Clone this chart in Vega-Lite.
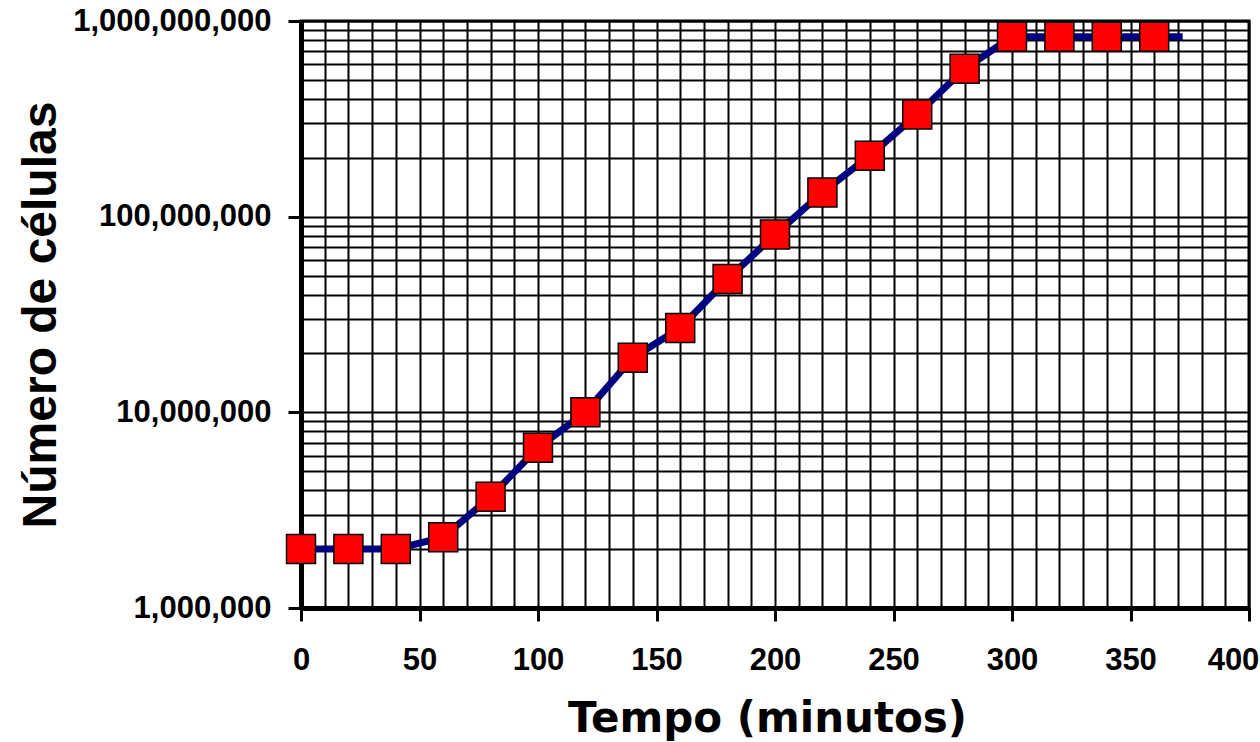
{
  "$schema": "https://vega.github.io/schema/vega-lite/v6.json",
  "width": 948,
  "height": 587,
  "autosize": "none",
  "padding": {"left": 301, "top": 21, "right": 11, "bottom": 134},
  "background": "white",
  "config": {"view": {"stroke": "black", "strokeWidth": 3}},
  "datasets": {
    "pts": [
      {"t": 0, "n": 2000000},
      {"t": 20, "n": 2000000},
      {"t": 40, "n": 2000000},
      {"t": 60, "n": 2300000},
      {"t": 80, "n": 3700000},
      {"t": 100, "n": 6600000},
      {"t": 120, "n": 10000000},
      {"t": 140, "n": 19000000},
      {"t": 160, "n": 27000000},
      {"t": 180, "n": 48000000},
      {"t": 200, "n": 81000000},
      {"t": 220, "n": 133000000},
      {"t": 240, "n": 205000000},
      {"t": 260, "n": 333000000},
      {"t": 280, "n": 570000000},
      {"t": 300, "n": 830000000},
      {"t": 320, "n": 830000000},
      {"t": 340, "n": 830000000},
      {"t": 360, "n": 830000000}
    ],
    "curve": [
      {"t": 0, "n": 2000000},
      {"t": 20, "n": 2000000},
      {"t": 40, "n": 2000000},
      {"t": 60, "n": 2300000},
      {"t": 80, "n": 3700000},
      {"t": 100, "n": 6600000},
      {"t": 120, "n": 10000000},
      {"t": 140, "n": 19000000},
      {"t": 160, "n": 27000000},
      {"t": 180, "n": 48000000},
      {"t": 200, "n": 81000000},
      {"t": 220, "n": 133000000},
      {"t": 240, "n": 205000000},
      {"t": 260, "n": 333000000},
      {"t": 280, "n": 570000000},
      {"t": 300, "n": 830000000},
      {"t": 320, "n": 830000000},
      {"t": 340, "n": 830000000},
      {"t": 360, "n": 830000000},
      {"t": 372, "n": 830000000}
    ]
  },
  "encoding": {
    "x": {
      "field": "t",
      "type": "quantitative",
      "scale": {"domain": [0, 400], "nice": false, "zero": false},
      "axis": {
        "values": [0,10,20,30,40,50,60,70,80,90,100,110,120,130,140,150,160,170,180,190,200,210,220,230,240,250,260,270,280,290,300,310,320,330,340,350,360,370,380,390,400],
        "labelExpr": "datum.value % 50 == 0 ? datum.label : ''",
        "labelOverlap": false,
        "labelFlush": false,
        "labelLimit": 0,
        "labelOffset": {"condition": {"test": "datum.value == 400", "value": -16}, "value": 0},
        "grid": true,
        "gridColor": "black",
        "gridWidth": 2,
        "gridOpacity": 1,
        "domainColor": "black",
        "domainWidth": 5,
        "tickColor": "black",
        "tickWidth": 3,
        "tickSize": 13,
        "tickOpacity": {"condition": {"test": "datum.value % 50 == 0", "value": 1}, "value": 0},
        "labelFont": "Liberation Sans",
        "labelFontWeight": "bold",
        "labelFontSize": 31,
        "labelColor": "black",
        "labelPadding": 24,
        "title": "Tempo (minutos)",
        "titleFont": "DejaVu Sans",
        "titleFontWeight": "bold",
        "titleFontSize": 42,
        "titleColor": "black",
        "titleX": 466,
        "titleY": 123,
        "titleBaseline": "alphabetic"
      }
    },
    "y": {
      "field": "n",
      "type": "quantitative",
      "scale": {"type": "log", "domain": [1000000, 1000000000], "nice": false},
      "axis": {
        "values": [1000000,2000000,3000000,4000000,5000000,6000000,7000000,8000000,9000000,10000000,20000000,30000000,40000000,50000000,60000000,70000000,80000000,90000000,100000000,200000000,300000000,400000000,500000000,600000000,700000000,800000000,900000000,1000000000],
        "format": ",",
        "labelExpr": "indexof([1000000,10000000,100000000,1000000000], datum.value) >= 0 ? datum.label : ''",
        "labelOverlap": false,
        "labelFlush": false,
        "labelLimit": 0,
        "grid": true,
        "gridColor": "black",
        "gridWidth": 2,
        "gridOpacity": 1,
        "domainColor": "black",
        "domainWidth": 5,
        "tickColor": "black",
        "tickWidth": 3,
        "tickSize": 13,
        "tickOpacity": {"condition": {"test": "indexof([1000000,10000000,100000000,1000000000], datum.value) >= 0", "value": 1}, "value": 0},
        "labelFont": "Liberation Sans",
        "labelFontWeight": "bold",
        "labelFontSize": 31,
        "labelColor": "black",
        "labelPadding": 17,
        "title": "Número de células",
        "titleFont": "Liberation Sans",
        "titleFontWeight": "bold",
        "titleFontSize": 48,
        "titleColor": "black",
        "titleX": -246,
        "titleBaseline": "alphabetic"
      }
    }
  },
  "layer": [
    {
      "data": {"name": "curve"},
      "mark": {"type": "line", "color": "#000080", "strokeWidth": 7}
    },
    {
      "data": {"name": "pts"},
      "mark": {"type": "point", "shape": "square", "filled": true, "fill": "#ff0000", "stroke": "black", "strokeWidth": 1.5, "size": 840, "opacity": 1}
    }
  ]
}
